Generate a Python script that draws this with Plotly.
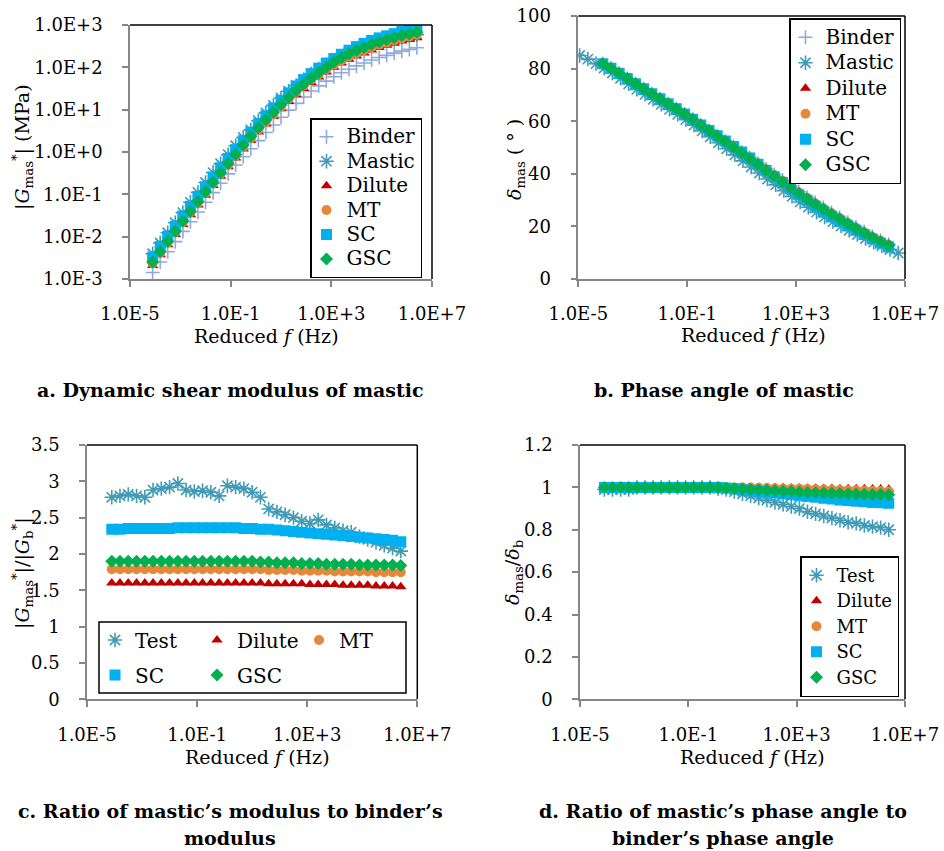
import plotly.graph_objects as go

W, H = 944, 851

# ---------------- data ----------------
FREQ = [7.94e-5, 1.58e-4, 3.16e-4, 6.31e-4, 1.26e-3, 2.51e-3, 5.01e-3, 1.0e-2, 2.0e-2, 3.98e-2,
        7.94e-2, 0.158, 0.316, 0.631, 1.26, 2.51, 5.01, 10.0, 20.0, 39.8,
        79.4, 158, 316, 631, 1260, 2510, 5010, 1.0e4, 2.0e4, 3.98e4,
        7.94e4, 1.58e5, 3.16e5, 6.31e5, 1.26e6, 2.51e6]

FREQ_MASTIC_B = [1.12e-5, 2.24e-5, 4.47e-5, 8.91e-5, 1.78e-4, 3.55e-4, 7.08e-4, 1.41e-3, 2.82e-3, 5.62e-3,
                 0.0112, 0.0224, 0.0447, 0.0891, 0.178, 0.355, 0.708, 1.41, 2.82, 5.62,
                 11.2, 22.4, 44.7, 89.1, 178, 355, 708, 1410, 2820, 5620,
                 1.12e4, 2.24e4, 4.47e4, 8.91e4, 1.78e5, 3.55e5, 7.08e5, 1.41e6, 2.82e6, 5.62e6]

# (a) dynamic shear modulus, MPa
G_BINDER = [0.00142, 0.00253, 0.00439, 0.00762, 0.0133, 0.0225, 0.0382, 0.0649, 0.110, 0.183,
            0.304, 0.492, 0.772, 1.19, 1.86, 2.88, 4.36, 6.62, 9.77, 14.1,
            19.9, 27.5, 36.5, 47.3, 60.0, 74.3, 89.9, 108, 127, 149,
            171, 192, 216, 242, 265, 291]
G_MASTIC = [0.00395, 0.00708, 0.0124, 0.0213, 0.0370, 0.0648, 0.111, 0.190, 0.327, 0.527,
            0.869, 1.41, 2.20, 3.33, 5.47, 8.41, 12.6, 18.9, 27.2, 36.9,
            51.3, 69.9, 91.3, 116, 145, 184, 216, 255, 295, 343,
            383, 422, 467, 513, 551, 594]
G_DILUTE = [0.00209, 0.00372, 0.00646, 0.0112, 0.0195, 0.0331, 0.0562, 0.0955, 0.162, 0.269,
            0.447, 0.724, 1.17, 1.86, 2.95, 4.57, 6.92, 10.5, 15.5, 22.4,
            31.6, 43.7, 58.9, 77.6, 100, 126, 155, 186, 219, 257,
            295, 331, 372, 417, 457, 501]
G_MT = [0.00234, 0.00417, 0.00724, 0.0125, 0.0218, 0.0371, 0.0629, 0.107, 0.181, 0.301,
        0.501, 0.811, 1.31, 2.08, 3.30, 5.12, 7.75, 11.8, 18.0, 26.0,
        36.7, 50.7, 68.3, 90.0, 116, 146, 180, 216, 254, 298,
        342, 384, 432, 484, 530, 581]
G_SC = [0.00330, 0.00588, 0.0102, 0.0177, 0.0308, 0.0523, 0.0888, 0.151, 0.256, 0.425,
        0.706, 1.14, 1.85, 2.94, 4.66, 7.22, 10.9, 16.6, 24.8, 36.3,
        51.2, 70.8, 95.4, 126, 162, 204, 254, 309, 368, 432,
        496, 556, 625, 701, 768, 842]
G_GSC = [0.00251, 0.00446, 0.00775, 0.0134, 0.0234, 0.0397, 0.0674, 0.115, 0.194, 0.323,
         0.536, 0.869, 1.47, 2.34, 3.72, 5.76, 8.72, 13.2, 19.5, 28.2,
         39.8, 55.1, 75.4, 101, 132, 169, 209, 251, 296, 347,
         398, 447, 502, 563, 617, 676]

# (b) phase angle, degrees
D_BINDER = [81.8, 80.1, 78.2, 76.2, 74.2, 72.3, 70.4, 68.5, 66.6, 64.7,
            62.7, 60.7, 58.6, 56.5, 54.5, 52.5, 50.4, 48.3, 46.2, 44.0,
            41.9, 39.7, 37.6, 35.4, 33.2, 31.1, 29.1, 27.2, 25.3, 23.5,
            21.6, 19.8, 18.1, 16.3, 14.7, 13.2]
D_MASTIC = [85.0, 83.6, 81.9, 80.2, 78.3, 76.3, 74.2, 72.1, 70.2, 68.3,
            66.4, 64.5, 62.6, 60.6, 58.5, 56.3, 54.1, 51.8, 49.5, 47.2,
            44.9, 42.6, 40.3, 38.0, 35.8, 33.6, 31.4, 29.3, 27.3, 25.4,
            23.6, 21.8, 20.1, 18.5, 16.9, 15.4, 14.0, 12.6, 11.2, 9.9]
D_DILUTE = [81.8, 80.1, 78.2, 76.2, 74.2, 72.3, 70.4, 68.5, 66.6, 64.7,
            62.7, 60.7, 58.6, 56.5, 54.5, 52.5, 50.4, 48.3, 46.2, 44.0,
            41.9, 39.6, 37.5, 35.3, 33.1, 31.0, 29.0, 27.1, 25.2, 23.4,
            21.5, 19.7, 18.0, 16.2, 14.6, 13.1]
D_MT = [81.8, 80.1, 78.2, 76.2, 74.2, 72.3, 70.4, 68.5, 66.6, 64.7,
        62.7, 60.7, 58.6, 56.5, 54.5, 52.5, 50.4, 48.3, 46.2, 43.9,
        41.8, 39.5, 37.4, 35.2, 33.0, 30.9, 28.8, 26.9, 25.0, 23.2,
        21.3, 19.5, 17.8, 16.0, 14.5, 13.0]
D_SC = [81.8, 80.1, 78.2, 76.2, 74.2, 72.3, 70.4, 68.5, 66.6, 64.7,
        62.7, 60.7, 58.6, 56.5, 54.5, 52.5, 50.4, 48.3, 46.0, 43.6,
        41.3, 38.9, 36.7, 34.3, 32.0, 29.9, 27.8, 25.8, 23.9, 22.1,
        20.2, 18.5, 16.9, 15.2, 13.6, 12.2]
D_GSC = [81.8, 80.1, 78.2, 76.2, 74.2, 72.3, 70.4, 68.5, 66.6, 64.7,
         62.7, 60.7, 58.6, 56.5, 54.4, 52.3, 50.1, 47.9, 45.7, 43.5,
         41.3, 39.1, 36.9, 34.7, 32.5, 30.4, 28.4, 26.5, 24.6, 22.8,
         21.0, 19.2, 17.5, 15.8, 14.2, 12.7]

# (c) modulus ratio mastic / binder
R_TEST = [2.78, 2.80, 2.82, 2.80, 2.78, 2.88, 2.90, 2.92, 2.97, 2.88,
          2.86, 2.87, 2.85, 2.80, 2.94, 2.92, 2.90, 2.85, 2.78, 2.62,
          2.58, 2.54, 2.50, 2.45, 2.42, 2.47, 2.40, 2.36, 2.32, 2.30,
          2.24, 2.20, 2.16, 2.12, 2.08, 2.04]
R_DILUTE = [1.60, 1.60, 1.60, 1.60, 1.60, 1.60, 1.60, 1.60, 1.60, 1.60,
            1.60, 1.60, 1.60, 1.60, 1.60, 1.60, 1.60, 1.60, 1.60, 1.59,
            1.59, 1.59, 1.59, 1.59, 1.58, 1.58, 1.58, 1.58, 1.57, 1.57,
            1.57, 1.57, 1.56, 1.56, 1.56, 1.55]
R_MT = [1.79, 1.79, 1.79, 1.79, 1.79, 1.79, 1.79, 1.79, 1.79, 1.79,
        1.79, 1.79, 1.79, 1.79, 1.79, 1.79, 1.79, 1.79, 1.79, 1.78,
        1.78, 1.78, 1.78, 1.77, 1.77, 1.77, 1.77, 1.76, 1.76, 1.76,
        1.76, 1.76, 1.75, 1.75, 1.75, 1.75]
R_SC = [2.34, 2.34, 2.35, 2.35, 2.35, 2.35, 2.35, 2.35, 2.36, 2.36,
        2.36, 2.36, 2.36, 2.36, 2.36, 2.36, 2.35, 2.35, 2.34, 2.34,
        2.33, 2.32, 2.31, 2.30, 2.29, 2.28, 2.27, 2.26, 2.25, 2.24,
        2.23, 2.22, 2.21, 2.20, 2.19, 2.17]
R_GSC = [1.90, 1.90, 1.90, 1.90, 1.90, 1.90, 1.90, 1.90, 1.90, 1.90,
         1.90, 1.90, 1.90, 1.90, 1.90, 1.90, 1.90, 1.90, 1.89, 1.89,
         1.88, 1.88, 1.88, 1.87, 1.87, 1.87, 1.86, 1.86, 1.86, 1.86,
         1.85, 1.85, 1.85, 1.85, 1.85, 1.84]

# (d) phase angle ratio mastic / binder
DR_TEST = [0.99, 0.99, 0.99, 0.99, 1.0, 1.0, 1.0, 1.0, 1.0, 1.0,
           1.0, 1.0, 1.0, 1.0, 0.995, 0.99, 0.98, 0.97, 0.96, 0.95,
           0.94, 0.93, 0.92, 0.91, 0.90, 0.885, 0.875, 0.865, 0.855, 0.845,
           0.835, 0.83, 0.82, 0.815, 0.81, 0.80]
DR_DILUTE = [1.0, 1.0, 1.0, 1.0, 1.0, 1.0, 1.0, 1.0, 1.0, 1.0,
             1.0, 1.0, 1.0, 1.0, 1.0, 1.0, 1.0, 1.0, 1.0, 0.999,
             0.999, 0.998, 0.998, 0.997, 0.997, 0.996, 0.996, 0.995, 0.995, 0.994,
             0.994, 0.993, 0.993, 0.992, 0.992, 0.991]
DR_MT = [1.0, 1.0, 1.0, 1.0, 1.0, 1.0, 1.0, 1.0, 1.0, 1.0,
         1.0, 1.0, 1.0, 1.0, 1.0, 1.0, 1.0, 1.0, 0.999, 0.998,
         0.997, 0.996, 0.995, 0.994, 0.993, 0.992, 0.991, 0.990, 0.989, 0.988,
         0.987, 0.986, 0.985, 0.984, 0.983, 0.982]
DR_SC = [1.0, 1.0, 1.0, 1.0, 1.0, 1.0, 1.0, 1.0, 1.0, 1.0,
         1.0, 1.0, 1.0, 1.0, 1.0, 0.997, 0.993, 0.989, 0.985, 0.981,
         0.977, 0.973, 0.969, 0.965, 0.961, 0.957, 0.953, 0.949, 0.945, 0.941,
         0.938, 0.935, 0.932, 0.929, 0.927, 0.925]
DR_GSC = [1.0, 1.0, 1.0, 1.0, 1.0, 1.0, 1.0, 1.0, 1.0, 1.0,
          1.0, 1.0, 1.0, 1.0, 0.998, 0.996, 0.994, 0.992, 0.99, 0.988,
          0.986, 0.984, 0.982, 0.98, 0.978, 0.976, 0.975, 0.974, 0.972, 0.971,
          0.970, 0.969, 0.968, 0.967, 0.966, 0.965]

X_TICKVALS = [1e-5, 1e-1, 1e3, 1e7]
X_TICKTEXT = ["1.0E-5", "1.0E-1", "1.0E+3", "1.0E+7"]
YA_TICKVALS = [1e-3, 1e-2, 1e-1, 1e0, 1e1, 1e2, 1e3]
YA_TICKTEXT = ["1.0E-3", "1.0E-2", "1.0E-1", "1.0E+0", "1.0E+1", "1.0E+2", "1.0E+3"]

# ---------------- styles ----------------
FONT = "DejaVu Serif"
GRAY = "#868686"
STYLE = {
    "Binder": dict(symbol="cross-thin-open", size=10, color="#8EA9DB", line=dict(width=1.6, color="#8EA9DB")),
    "Mastic": dict(symbol="asterisk-open", size=12, color="#3F9AB5", line=dict(width=1.6, color="#3F9AB5")),
    "Dilute": dict(symbol="triangle-up", size=10, color="#C00000", line=dict(width=0)),
    "MT": dict(symbol="circle", size=10, color="#E5883C", line=dict(width=0)),
    "SC": dict(symbol="square", size=11, color="#00B0F0", line=dict(width=0)),
    "GSC": dict(symbol="diamond", size=10, color="#00B050", line=dict(width=0)),
}


def px_x(p):
    return p / W


def px_y(p):
    return 1 - p / H


fig = go.Figure()


def add(label, style_key, x, y, ax, legend, legend_fs=20):
    fig.add_trace(go.Scatter(
        x=x, y=y, mode="markers",
        name='<span style="font-size:%dpx">%s</span>' % (legend_fs, label),
        marker=STYLE[style_key],
        xaxis="x" + ax, yaxis="y" + ax, legend=legend,
        hoverinfo="skip"))


# panel a
add("Binder", "Binder", FREQ, G_BINDER, "", "legend")
add("Mastic", "Mastic", FREQ, G_MASTIC, "", "legend")
add("Dilute", "Dilute", FREQ, G_DILUTE, "", "legend")
add("MT", "MT", FREQ, G_MT, "", "legend")
add("SC", "SC", FREQ, G_SC, "", "legend")
add("GSC", "GSC", FREQ, G_GSC, "", "legend")
# panel b
add("Binder", "Binder", FREQ, D_BINDER, "2", "legend2")
add("Mastic", "Mastic", FREQ_MASTIC_B, D_MASTIC, "2", "legend2")
add("Dilute", "Dilute", FREQ, D_DILUTE, "2", "legend2")
add("MT", "MT", FREQ, D_MT, "2", "legend2")
add("SC", "SC", FREQ, D_SC, "2", "legend2")
add("GSC", "GSC", FREQ, D_GSC, "2", "legend2")
# panel c
add("Test", "Mastic", FREQ, R_TEST, "3", "legend3")
add("Dilute", "Dilute", FREQ, R_DILUTE, "3", "legend3")
add("MT", "MT", FREQ, R_MT, "3", "legend3")
add("SC", "SC", FREQ, R_SC, "3", "legend4")
add("GSC", "GSC", FREQ, R_GSC, "3", "legend4")
# panel d
add("Test", "Mastic", FREQ, DR_TEST, "4", "legend5", 18)
add("Dilute", "Dilute", FREQ, DR_DILUTE, "4", "legend5", 18)
add("MT", "MT", FREQ, DR_MT, "4", "legend5", 18)
add("SC", "SC", FREQ, DR_SC, "4", "legend5", 18)
add("GSC", "GSC", FREQ, DR_GSC, "4", "legend5", 18)

# plot-area boxes in pixels: (left, right, top, bottom)
BOX = {
    "": (130, 432, 25, 279),
    "2": (578.3, 905, 16, 279),
    "3": (87, 417.3, 445, 699.3),
    "4": (580, 905, 445, 699.3),
}

tickfont = dict(family=FONT, size=18, color="black")
layout_axes = {}
for k, (l, r, t, b) in BOX.items():
    xa = dict(type="log", range=[-5, 7], tickvals=X_TICKVALS, ticktext=X_TICKTEXT,
              domain=[px_x(l), px_x(r)], anchor="y" + k,
              showline=True, linecolor=GRAY, linewidth=1.5, ticks="outside", ticklen=6,
              tickcolor=GRAY, tickwidth=1.5, showgrid=False, zeroline=False,
              tickfont=tickfont, ticklabelstandoff=12, automargin=False)
    ya = dict(domain=[px_y(b), px_y(t)], anchor="x" + k,
              showline=True, linecolor=GRAY, linewidth=1.5, ticks="outside", ticklen=6,
              tickcolor=GRAY, tickwidth=1.5, showgrid=False, zeroline=False,
              tickfont=tickfont, ticklabelstandoff=16, automargin=False)
    layout_axes["xaxis" + k] = xa
    layout_axes["yaxis" + k] = ya

layout_axes["yaxis"].update(type="log", range=[-3, 3], tickvals=YA_TICKVALS, ticktext=YA_TICKTEXT)
layout_axes["yaxis2"].update(range=[0, 100], dtick=20, tick0=0)
layout_axes["yaxis3"].update(range=[0, 3.5], dtick=0.5, tick0=0)
layout_axes["yaxis4"].update(range=[0, 1.2], dtick=0.2, tick0=0)

shapes = []
for k, (l, r, t, b) in BOX.items():
    shapes.append(dict(type="line", xref="paper", yref="paper", x0=px_x(l), x1=px_x(r),
                       y0=px_y(t), y1=px_y(t), line=dict(color="black", width=1.5)))
    shapes.append(dict(type="line", xref="paper", yref="paper", x0=px_x(r), x1=px_x(r),
                       y0=px_y(t), y1=px_y(b), line=dict(color="black", width=1.5)))
# legend box of panel c
shapes.append(dict(type="rect", xref="paper", yref="paper", x0=px_x(99), x1=px_x(406),
                   y0=px_y(693), y1=px_y(622), line=dict(color="black", width=1.5)))

title_font = dict(family=FONT, size=19, color="black")
ann = []


def text_at(x, y, txt, angle=0, font=title_font):
    ann.append(dict(x=px_x(x), y=px_y(y), xref="paper", yref="paper", text=txt, showarrow=False,
                    textangle=angle, xanchor="center", yanchor="middle", font=font))


# axis titles
text_at(266, 336, "Reduced <i>f</i> (Hz)")
text_at(753, 335, "Reduced <i>f</i> (Hz)")
text_at(257, 757, "Reduced <i>f</i> (Hz)")
text_at(752, 757, "Reduced <i>f</i> (Hz)")
text_at(22, 147, "|<i>G</i><sub>mas</sub><sup>*</sup>| (MPa)", -90)
text_at(515, 160, "<i>δ</i><sub>mas</sub> ( ° )", -90)
text_at(22, 573, "|<i>G</i><sub>mas</sub><sup>*</sup>|/|<i>G</i><sub>b</sub><sup>*</sup>|", -90)
text_at(513, 573, "<i>δ</i><sub>mas</sub>/<i>δ</i><sub>b</sub>", -90)

# captions
cap_font = dict(family=FONT, size=19, color="black", weight="bold")
text_at(230, 390, "<b>a. Dynamic shear modulus of mastic</b>", font=cap_font)
text_at(724, 390, "<b>b. Phase angle of mastic</b>", font=cap_font)
text_at(230, 811, "<b>c. Ratio of mastic’s modulus to binder’s</b>", font=cap_font)
text_at(230, 838, "<b>modulus</b>", font=cap_font)
text_at(723, 811, "<b>d. Ratio of mastic’s phase angle to</b>", font=cap_font)
text_at(723, 838, "<b>binder’s phase angle</b>", font=cap_font)

leg_common = dict(xanchor="left", yanchor="top", bordercolor="black", borderwidth=1.5,
                  bgcolor="white", traceorder="normal", indentation=-5)

fig.update_layout(
    width=W, height=H, margin=dict(l=0, r=0, t=0, b=0, autoexpand=False),
    paper_bgcolor="white", plot_bgcolor="white",
    showlegend=True,
    shapes=shapes, annotations=ann,
    legend=dict(x=px_x(310), y=px_y(118), font=dict(family=FONT, size=16.5, color="black"), **leg_common),
    legend2=dict(x=px_x(789), y=px_y(18), font=dict(family=FONT, size=17.3, color="black"), **leg_common),
    legend5=dict(x=px_x(800), y=px_y(556), font=dict(family=FONT, size=17.3, color="black"), **leg_common),
    legend3=dict(x=px_x(100), y=px_y(620.5), orientation="h", entrywidth=62, xanchor="left", yanchor="top",
                 borderwidth=0, bgcolor="rgba(0,0,0,0)", indentation=-5,
                 font=dict(family=FONT, size=20, color="black")),
    legend4=dict(x=px_x(100), y=px_y(655.5), orientation="h", entrywidth=62, xanchor="left", yanchor="top",
                 borderwidth=0, bgcolor="rgba(0,0,0,0)", indentation=-5,
                 font=dict(family=FONT, size=20, color="black")),
    **layout_axes,
)

fig.write_html(
    "out.html",
    config={"displayModeBar": False},
    post_script="document.body.style.margin='0px';document.documentElement.style.overflow='hidden';",
)
